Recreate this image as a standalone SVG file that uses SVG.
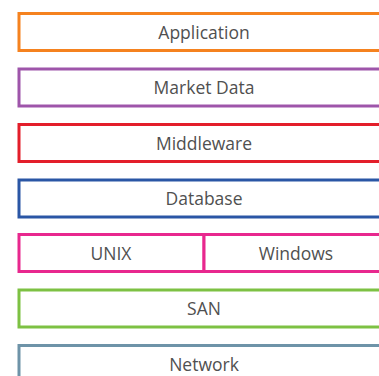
<svg xmlns="http://www.w3.org/2000/svg" width="379" height="376" viewBox="0 0 379 376">
<style>
rect{fill:#fff;stroke-width:3}
text{font-family:"Open Sans","Liberation Sans",sans-serif;font-size:17.5px;fill:#505050;text-anchor:middle}
</style>
<rect width="379" height="376" fill="#fff" stroke="none"/>
<g id="application"><rect x="19" y="13.5" width="370" height="37" stroke="#F5821F"/><text x="204" y="38.5">Application</text></g>
<g id="market-data"><rect x="19" y="69" width="370" height="37" stroke="#9E55AA"/><text x="204" y="94">Market Data</text></g>
<g id="middleware"><rect x="19" y="124.5" width="370" height="37" stroke="#E31E2A"/><text x="204" y="149.5">Middleware</text></g>
<g id="database"><rect x="19" y="180" width="370" height="37" stroke="#2A56A5"/><text x="204" y="205">Database</text></g>
<g id="unix"><rect x="19" y="234.5" width="185" height="37" stroke="#E8288E"/><text x="111" y="259.5">UNIX</text></g>
<g id="windows"><rect x="204" y="234.5" width="185" height="37" stroke="#E8288E"/><text x="296" y="259.5">Windows</text></g>
<g id="san"><rect x="19" y="290" width="370" height="37" stroke="#7DC143"/><text x="204" y="315">SAN</text></g>
<g id="network"><rect x="19" y="345.5" width="370" height="37" stroke="#6E93A8"/><text x="204" y="370.5">Network</text></g>
<g id="connectors"/>
</svg>
